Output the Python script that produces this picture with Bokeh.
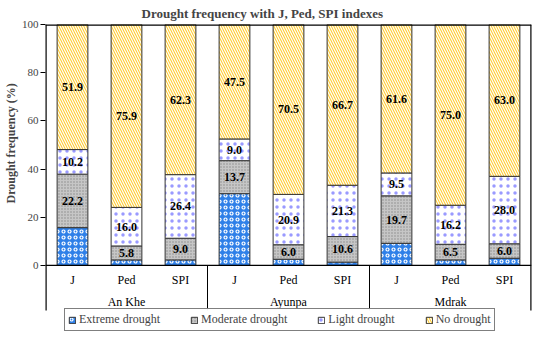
from bokeh.plotting import figure
from bokeh.models import FactorRange, ColumnDataSource, Legend, LegendItem, Range1d, FixedTicker, Title
from bokeh.embed import file_html
from bokeh.resources import INLINE
from bokeh.core.properties import value

stations = ["An Khe", "Ayunpa", "Mdrak"]
indexes = ["J", "Ped", "SPI"]
extreme = [15.7, 2.3, 2.3, 29.8, 2.6, 1.4, 9.2, 2.3, 3.0]
moderate = [22.2, 5.8, 9.0, 13.7, 6.0, 10.6, 19.7, 6.5, 6.0]
light = [10.2, 16.0, 26.4, 9.0, 20.9, 21.3, 9.5, 16.2, 28.0]
no_drought = [51.9, 75.9, 62.3, 47.5, 70.5, 66.7, 61.6, 75.0, 63.0]
series_names = ["Extreme drought", "Moderate drought", "Light drought", "No drought"]
y_ticks = [0, 20, 40, 60, 80, 100]

FONT = "Liberation Serif"
Y_MIN = -27.4      # room below the axis for category labels and legend
SEP_BOTTOM = -18.7
SUB_Y = -6.2
GRP_Y = -15.0

factors = [(s, i) for s in stations for i in indexes]
series = [extreme, moderate, light, no_drought]

data = {"x": factors}
cum = [0.0] * len(factors)
for k, vals in enumerate(series):
    data[f"b{k}"] = list(cum)
    cum = [c + v for c, v in zip(cum, vals)]
    data[f"t{k}"] = list(cum)
    data[f"m{k}"] = [(b + t) / 2 for b, t in zip(data[f"b{k}"], cum)]
    data[f"l{k}"] = [f"{v:.1f}" for v in vals]
src = ColumnDataSource(data)

xr = FactorRange(*factors, range_padding=0, factor_padding=0, group_padding=0)
p = figure(width=534, height=331, output_backend="svg", toolbar_location=None,
           x_range=xr, y_range=Range1d(Y_MIN, 100), x_axis_type=None,
           min_border_top=16, min_border_left=36, min_border_right=3, min_border_bottom=0)
p.title.text = "Drought frequency with J, Ped, SPI indexes"
p.title.align = "left"
p.title.offset = 96
p.title.text_font = FONT
p.title.text_font_size = "13px"
p.title.text_font_style = "bold"
p.title.standoff = 7

styles = [
    dict(fill_color="#2f80e8", hatch_pattern="o", hatch_color="white", hatch_scale=6, hatch_weight=1.2),
    dict(fill_color="#c6c6c6", hatch_pattern=".", hatch_color="#8a8a8a", hatch_scale=3, hatch_weight=1),
    dict(fill_color="white", hatch_pattern=".", hatch_color="#9a9aff", hatch_scale=7, hatch_weight=1),
    dict(fill_color="#ffcc33", hatch_pattern="\\", hatch_color="white", hatch_scale=5, hatch_weight=1.2),
]
renderers = []
for k, st in enumerate(styles):
    r = p.vbar(x="x", bottom=f"b{k}", top=f"t{k}", width=0.57, source=src,
               line_color="#333333", line_width=1, **st)
    renderers.append(r)

for k in (1, 2, 3):
    p.text(x="x", y=f"m{k}", text=f"l{k}", source=src, text_font=value(FONT),
           text_font_style="bold", text_font_size="12px", text_align="center",
           text_baseline="middle", text_color="black")

# category axis drawn inside the frame
sub_src = ColumnDataSource(dict(x=factors, t=[f[1] for f in factors]))
p.text(x="x", y=SUB_Y, text="t", source=sub_src, text_font=value(FONT), text_font_size="12px",
       text_align="center", text_baseline="middle", text_color="black")
grp_src = ColumnDataSource(dict(x=stations, t=stations))
p.text(x="x", y=GRP_Y, text="t", source=grp_src, text_font=value(FONT), text_font_size="12px",
       text_align="center", text_baseline="middle", text_color="black")

n_all = len(factors)
sep_inner = [len(indexes) * k for k in range(1, len(stations))]
# frame lines: left/right edges, top, x axis line, group separators
p.segment(x0=[0, n_all], y0=[SEP_BOTTOM] * 2, x1=[0, n_all], y1=[100] * 2,
          line_color="black", line_width=2.4)
p.segment(x0=[0], y0=[100], x1=[n_all], y1=[100], line_color="black", line_width=2.4)
p.segment(x0=[0], y0=[0], x1=[n_all], y1=[0], line_color="black", line_width=1.3)
p.segment(x0=sep_inner, y0=[0] * len(sep_inner), x1=sep_inner, y1=[SEP_BOTTOM] * len(sep_inner),
          line_color="black", line_width=1)

p.xgrid.grid_line_color = None
p.ygrid.grid_line_color = None
p.outline_line_color = None

yax = p.yaxis[0]
yax.ticker = FixedTicker(ticks=y_ticks)
yax.major_label_text_font = FONT
yax.major_label_text_font_size = "11px"
yax.major_label_standoff = 2
yax.major_tick_in = 0
yax.major_tick_out = 5
yax.minor_tick_line_color = None
yax.axis_line_color = None
yax.major_tick_line_color = "black"

ylab = Title(text="Drought frequency (%)", align="left", offset=128, text_font=FONT,
             text_font_style="bold", text_font_size="12px", standoff=2)
p.add_layout(ylab, "left")

legend = Legend(items=[LegendItem(label=n, renderers=[r]) for n, r in zip(series_names, renderers)],
                orientation="horizontal", location=(19, 0), border_line_color="black",
                border_line_width=1.2, label_text_font=FONT, label_text_font_size="12px",
                glyph_width=8, glyph_height=8, label_standoff=3, spacing=30, padding=3,
                margin=0, label_height=12, background_fill_color="white")
p.add_layout(legend)

open("out.html", "w").write(file_html(p, INLINE))
